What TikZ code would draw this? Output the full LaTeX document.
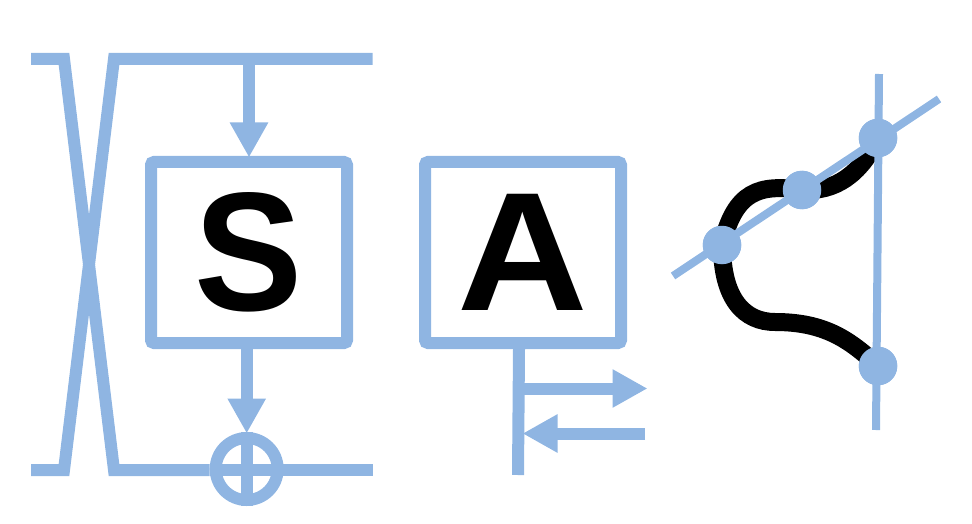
\documentclass[tikz,border=0pt]{standalone}
\usepackage{fontspec}
\setmainfont{Liberation Sans}
\usetikzlibrary{arrows.meta,calc}
\definecolor{sablue}{HTML}{8FB5E2}
\tikzset{
  wire/.style={draw=sablue,line width=12pt,line join=miter,miter limit=10},
  flow/.style={wire,shorten >=-1.5pt,-{Triangle[width=36pt,length=35pt]}},
  thin wire/.style={draw=sablue,line width=8pt},
  blockbox/.style={draw=sablue,fill=white,line width=12pt,rounded corners=3pt,minimum width=196pt,minimum height=181pt,inner sep=0pt,font=\fontsize{169}{169}\selectfont\bfseries,text=black},
  sumring/.style={circle,draw=sablue,line width=12pt,minimum size=62pt,inner sep=0pt},
  dot/.style={circle,fill=sablue,minimum size=38.5pt,inner sep=0pt},
  strand/.style={draw=black,line width=18pt}
}
\begin{document}
\begin{tikzpicture}[x=1pt,y=-1pt]
\useasboundingbox (0,0) rectangle (972,524);
% block S and A
\node[blockbox] (S) at (249,252.5) {\scalebox{0.96}[1]{S}};
\node[blockbox] (A) at (523,252.5) {\scalebox{1.07}[1]{A}};
% free ends
\coordinate (tl) at (31,59);
\coordinate (tr) at (372.5,59);
\coordinate (bl) at (31,470);
\coordinate (br) at (372.5,470);
\coordinate (tla) at (64,59);
\coordinate (tlb) at (114,59);
\coordinate (bla) at (64,470);
\coordinate (blb) at (114,470);
\node[sumring] (sum) at (246.7,469) {};
% crossing
\draw[wire] (tl) -- (tla) -- (blb) -- (blb -| sum.west);
\draw[wire] (bl) -- (bla) -- (tlb) -- (tr);
\draw[wire] (blb -| sum.east) -- (br);
% arrows S
\draw[flow] (S.north |- tl) -- (S.north);
\draw[flow] (sum.north |- S.south) -- (sum.north);
% sum ring cross
\draw[wire] (sum.north) -- (sum.south);
\draw[wire] (blb -| sum.west) -- (blb -| sum.east);
% A stem
\coordinate (stemtop) at (519,349);
\coordinate (stembot) at (518,475);
\coordinate (outtip) at (646,388.5);
\coordinate (outroot) at (519,388.5);
\coordinate (inend) at (645,433.5);
\coordinate (intip) at (524,433.5);
\draw[wire] (stemtop) -- (stembot);
\draw[flow] (outroot) -- (outtip);
\draw[flow] (inend) -- (intip);
% right figure
\coordinate (vt) at (879,74);
\coordinate (vb) at (876,430);
\coordinate (dl) at (673,276);
\coordinate (dr) at (939,99);
\coordinate (cj) at (775,322);
\node[dot] (c1) at (722,245) {};
\node[dot] (c2) at (802,190) {};
\node[dot] (c3) at (878,138) {};
\node[dot] (c4) at (878,366) {};
\draw[strand] (c3.center) .. controls (860,175) and (835,192) .. (c2.center)
  .. controls (760,184) and (735,190) .. (c1.center)
  .. controls (722,300) and (745,322) .. (cj)
  .. controls (825,322) and (850,340) .. (c4.center);
\draw[thin wire] (vt) -- (vb);
\draw[thin wire] (dl) -- (dr);
\node[dot] at (c1) {};
\node[dot] at (c2) {};
\node[dot] at (c3) {};
\node[dot] at (c4) {};
\end{tikzpicture}
\end{document}
